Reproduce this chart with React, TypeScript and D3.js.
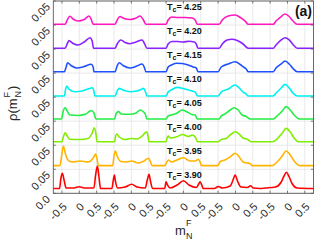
import React from "react";
import * as d3 from "d3";

// ---- data ----
const panels = [0, 1, 2, 3, 4];
const mTicks = [-0.5, 0, 0.5];
const mTickLabels = ["-0.5", "0", "0.5"];
const yTicks = [0, 0.05, 0.1, 0.15, 0.2, 0.25, 0.3, 0.35, 0.4];
const yTickLabels = ["0.0", "0.05", "0.05", "0.05", "0.05", "0.05", "0.05", "0.05", "0.05"];
const temps = ["3.90", "3.95", "4.00", "4.05", "4.10", "4.15", "4.20", "4.25"];
const bandOffset = 0.05;
const panelSpan = 1.5;

// [panel, m, rho]
type P = [number, number, number];
const rho390: P[] = [
  [0, -0.75, 0.010], [0, -0.57, 0.010], [0, -0.53, 0.0318], [0, -0.49, 0.0416], [0, -0.44, 0.0277], [0, -0.38, 0.011],
  [0, -0.15, 0.011], [0, -0.01, 0.0137], [0, 0.14, 0.011], [0, 0.42, 0.011], [0, 0.47, 0.0381], [0, 0.52, 0.0568],
  [0, 0.57, 0.0318], [0, 0.61, 0.010],
  [1, -0.56, 0.010], [1, -0.52, 0.0277], [1, -0.49, 0.0381], [1, -0.46, 0.0256], [1, -0.40, 0.011], [1, -0.18, 0.0131],
  [1, 0.01, 0.0187], [1, 0.16, 0.0131], [1, 0.40, 0.011], [1, 0.46, 0.0277], [1, 0.51, 0.0395], [1, 0.55, 0.0256], [1, 0.61, 0.010],
  [2, -0.54, 0.010], [2, -0.50, 0.0241], [2, -0.46, 0.0173], [2, -0.38, 0.011], [2, -0.18, 0.0173], [2, 0, 0.0262],
  [2, 0.16, 0.0173], [2, 0.37, 0.0121], [2, 0.44, 0.0193], [2, 0.48, 0.0241], [2, 0.53, 0.0173], [2, 0.57, 0.010],
  [3, -0.61, 0.010], [3, -0.49, 0.0141], [3, -0.38, 0.011], [3, -0.15, 0.0152], [3, -0.07, 0.0277], [3, -0.01, 0.0381],
  [3, 0.06, 0.0256], [3, 0.16, 0.0131], [3, 0.34, 0.0121], [3, 0.44, 0.0158], [3, 0.51, 0.011], [3, 0.71, 0.010],
  [4, -0.64, 0.011], [4, -0.35, 0.0131], [4, -0.18, 0.0235], [4, -0.10, 0.036], [4, -0.03, 0.0437], [4, 0.05, 0.0339],
  [4, 0.14, 0.0193], [4, 0.28, 0.011], [4, 0.75, 0.010],
];
const rho395: P[] = [
  [0, -0.75, 0.0075], [0, -0.56, 0.0075], [0, -0.51, 0.0277], [0, -0.46, 0.0485], [0, -0.40, 0.0318], [0, -0.33, 0.0193],
  [0, -0.21, 0.0152], [0, 0.02, 0.0173], [0, 0.25, 0.0152], [0, 0.40, 0.0235], [0, 0.47, 0.0318], [0, 0.51, 0.0214], [0, 0.55, 0.0075],
  [1, -0.54, 0.0075], [1, -0.50, 0.0277], [1, -0.46, 0.0381], [1, -0.41, 0.0277], [1, -0.30, 0.0162], [1, -0.15, 0.0152],
  [1, 0.01, 0.0173], [1, 0.19, 0.0131], [1, 0.37, 0.0173], [1, 0.49, 0.0229], [1, 0.54, 0.0173], [1, 0.60, 0.0075],
  [2, -0.54, 0.0075], [2, -0.48, 0.0152], [2, -0.43, 0.0193], [2, -0.35, 0.0152], [2, -0.18, 0.0193], [2, 0, 0.0241],
  [2, 0.19, 0.0173], [2, 0.34, 0.0173], [2, 0.43, 0.0208], [2, 0.48, 0.0152], [2, 0.52, 0.0075],
  [3, -0.51, 0.0075], [3, -0.44, 0.0158], [3, -0.30, 0.0193], [3, -0.15, 0.0256], [3, -0.01, 0.0333], [3, 0.11, 0.0256],
  [3, 0.22, 0.0152], [3, 0.34, 0.0131], [3, 0.42, 0.0121], [3, 0.48, 0.0075],
  [4, -0.44, 0.0075], [4, -0.30, 0.0152], [4, -0.15, 0.0277], [4, -0.04, 0.0381], [4, 0.08, 0.0297], [4, 0.19, 0.0173],
  [4, 0.37, 0.0075], [4, 0.75, 0.0075],
];
const rho400: P[] = [
  [0, -0.75, 0.0073], [0, -0.50, 0.0073], [0, -0.46, 0.0171], [0, -0.41, 0.026], [0, -0.35, 0.0191], [0, -0.27, 0.0123],
  [0, 0.02, 0.0119], [0, 0.25, 0.0139], [0, 0.37, 0.0254], [0, 0.43, 0.0364], [0, 0.48, 0.0233], [0, 0.51, 0.0073],
  [1, -0.48, 0.0073], [1, -0.46, 0.0171], [1, -0.42, 0.0233], [1, -0.35, 0.0171], [1, -0.18, 0.0119], [1, -0.01, 0.0139],
  [1, 0.16, 0.0129], [1, 0.34, 0.0212], [1, 0.44, 0.0281], [1, 0.48, 0.0191], [1, 0.51, 0.0073],
  [2, -0.50, 0.0073], [2, -0.47, 0.015], [2, -0.44, 0.0191], [2, -0.38, 0.015], [2, -0.21, 0.0171], [2, -0.02, 0.0223],
  [2, 0.14, 0.0181], [2, 0.25, 0.0212], [2, 0.34, 0.0171], [2, 0.41, 0.0073],
  [3, -0.50, 0.0073], [3, -0.41, 0.0119], [3, -0.27, 0.0139], [3, -0.12, 0.0233], [3, -0.01, 0.0281], [3, 0.11, 0.0233],
  [3, 0.22, 0.015], [3, 0.34, 0.0123], [3, 0.45, 0.0073],
  [4, -0.44, 0.0073], [4, -0.30, 0.0129], [4, -0.15, 0.0254], [4, -0.04, 0.0351], [4, 0.08, 0.0275], [4, 0.19, 0.015],
  [4, 0.31, 0.0073], [4, 0.75, 0.0073],
];
const rho405: P[] = [
  [0, -0.75, 0.0046], [0, -0.51, 0.0046], [0, -0.47, 0.0191], [0, -0.41, 0.0281], [0, -0.35, 0.0212], [0, -0.27, 0.0129],
  [0, -0.04, 0.0119], [0, 0.19, 0.015], [0, 0.31, 0.0212], [0, 0.37, 0.0218], [0, 0.42, 0.0171], [0, 0.48, 0.0046],
  [1, -0.48, 0.0046], [1, -0.44, 0.016], [1, -0.37, 0.0198], [1, -0.30, 0.015], [1, -0.04, 0.0143], [1, 0.14, 0.0171],
  [1, 0.25, 0.0233], [1, 0.34, 0.0202], [1, 0.40, 0.015], [1, 0.45, 0.0046],
  [2, -0.50, 0.0046], [2, -0.44, 0.0108], [2, -0.35, 0.0129], [2, -0.18, 0.0171], [2, -0.04, 0.0233], [2, 0.11, 0.0191],
  [2, 0.25, 0.0139], [2, 0.34, 0.0129], [2, 0.40, 0.0046],
  [3, -0.47, 0.0046], [3, -0.41, 0.0108], [3, -0.30, 0.015], [3, -0.15, 0.0233], [3, -0.04, 0.0281], [3, 0.08, 0.0233],
  [3, 0.19, 0.0129], [3, 0.31, 0.0098], [3, 0.42, 0.0046],
  [4, -0.41, 0.0046], [4, -0.30, 0.0108], [4, -0.15, 0.0212], [4, -0.04, 0.0302], [4, 0.08, 0.0233], [4, 0.19, 0.0129],
  [4, 0.34, 0.0046], [4, 0.75, 0.0046],
];
const rho410: P[] = [
  [0, -0.75, 0.0023], [0, -0.43, 0.0023], [0, -0.40, 0.0148], [0, -0.36, 0.0231], [0, -0.30, 0.0168], [0, -0.12, 0.0112],
  [0, 0.08, 0.0127], [0, 0.25, 0.0168], [0, 0.38, 0.0196], [0, 0.42, 0.0127], [0, 0.45, 0.0023],
  [1, -0.47, 0.0023], [1, -0.41, 0.0127], [1, -0.35, 0.0183], [1, -0.24, 0.0148], [1, -0.04, 0.0112], [1, 0.16, 0.0127],
  [1, 0.28, 0.0158], [1, 0.34, 0.0183], [1, 0.40, 0.0127], [1, 0.45, 0.0023],
  [2, -0.50, 0.0023], [2, -0.44, 0.0106], [2, -0.35, 0.0148], [2, -0.18, 0.0204], [2, 0.05, 0.0168], [2, 0.25, 0.0127],
  [2, 0.34, 0.0106], [2, 0.41, 0.0023],
  [3, -0.50, 0.0023], [3, -0.41, 0.0106], [3, -0.21, 0.0168], [3, -0.01, 0.0252], [3, 0.11, 0.019], [3, 0.22, 0.0106],
  [3, 0.31, 0.0065], [3, 0.37, 0.0023],
  [4, -0.41, 0.0023], [4, -0.33, 0.0085], [4, -0.18, 0.019], [4, -0.07, 0.0266], [4, 0.05, 0.019], [4, 0.16, 0.0085],
  [4, 0.28, 0.0023], [4, 0.75, 0.0023],
];
const rho415: P[] = [
  [0, -0.75, 0.0029], [0, -0.43, 0.0029], [0, -0.38, 0.0127], [0, -0.34, 0.0216], [0, -0.24, 0.0158], [0, -0.07, 0.0106],
  [0, 0.14, 0.0137], [0, 0.34, 0.0183], [0, 0.40, 0.0127], [0, 0.42, 0.0029],
  [1, -0.47, 0.0029], [1, -0.41, 0.0148], [1, -0.35, 0.0216], [1, -0.24, 0.0158], [1, -0.04, 0.0106], [1, 0.16, 0.0148],
  [1, 0.31, 0.019], [1, 0.37, 0.0127], [1, 0.42, 0.0029],
  [2, -0.50, 0.0029], [2, -0.44, 0.0127], [2, -0.35, 0.0168], [2, -0.21, 0.0204], [2, -0.04, 0.020], [2, 0.14, 0.0168],
  [2, 0.28, 0.0127], [2, 0.37, 0.0106], [2, 0.42, 0.0029],
  [3, -0.50, 0.0029], [3, -0.41, 0.0127], [3, -0.21, 0.019], [3, -0.01, 0.0237], [3, 0.14, 0.0179], [3, 0.22, 0.0133],
  [3, 0.31, 0.0085], [3, 0.37, 0.0029],
  [4, -0.41, 0.0029], [4, -0.33, 0.0106], [4, -0.18, 0.019], [4, -0.07, 0.0252], [4, 0.05, 0.019], [4, 0.16, 0.0096],
  [4, 0.28, 0.0029], [4, 0.75, 0.0029],
];
const rho420: P[] = [
  [0, -0.75, 0.0017], [0, -0.41, 0.0017], [0, -0.35, 0.0106], [0, -0.30, 0.0175], [0, -0.18, 0.0116], [0, -0.04, 0.0085],
  [0, 0.14, 0.0148], [0, 0.31, 0.0237], [0, 0.37, 0.0168], [0, 0.41, 0.0017],
  [1, -0.47, 0.0017], [1, -0.41, 0.0106], [1, -0.30, 0.019], [1, -0.18, 0.0137], [1, -0.04, 0.0112], [1, 0.14, 0.0148],
  [1, 0.31, 0.019], [1, 0.37, 0.0127], [1, 0.45, 0.0017],
  [2, -0.50, 0.0017], [2, -0.44, 0.0106], [2, -0.33, 0.0158], [2, -0.18, 0.0158], [2, -0.01, 0.0148], [2, 0.16, 0.0162],
  [2, 0.31, 0.0148], [2, 0.37, 0.0106], [2, 0.42, 0.0017],
  [3, -0.47, 0.0017], [3, -0.38, 0.0106], [3, -0.24, 0.019], [3, -0.10, 0.0204], [3, 0.05, 0.0179], [3, 0.22, 0.0106],
  [3, 0.37, 0.0017],
  [4, -0.41, 0.0017], [4, -0.33, 0.0085], [4, -0.18, 0.019], [4, -0.07, 0.0237], [4, 0.05, 0.019], [4, 0.16, 0.0096],
  [4, 0.28, 0.0017], [4, 0.75, 0.0017],
];
const rho425: P[] = [
  [0, -0.75, 0.0015], [0, -0.41, 0.0015], [0, -0.35, 0.0104], [0, -0.27, 0.0183], [0, -0.18, 0.0125], [0, -0.04, 0.0083],
  [0, 0.14, 0.0114], [0, 0.28, 0.0187], [0, 0.34, 0.0125], [0, 0.40, 0.0015],
  [1, -0.47, 0.0015], [1, -0.41, 0.0104], [1, -0.33, 0.0177], [1, -0.21, 0.0135], [1, -0.04, 0.0114], [1, 0.14, 0.0146],
  [1, 0.25, 0.0187], [1, 0.34, 0.0114], [1, 0.42, 0.0015],
  [2, -0.50, 0.0015], [2, -0.44, 0.0104], [2, -0.33, 0.0166], [2, -0.15, 0.0156], [2, 0.05, 0.0156], [2, 0.25, 0.0146],
  [2, 0.34, 0.0104], [2, 0.40, 0.0015],
  [3, -0.47, 0.0015], [3, -0.38, 0.0104], [3, -0.21, 0.0187], [3, 0, 0.0208], [3, 0.14, 0.0156], [3, 0.28, 0.0083],
  [3, 0.37, 0.0015],
  [4, -0.41, 0.0015], [4, -0.33, 0.0083], [4, -0.18, 0.0177], [4, -0.07, 0.0229], [4, 0.05, 0.0177], [4, 0.16, 0.0083],
  [4, 0.28, 0.0015], [4, 0.75, 0.0015],
];
const series = [rho390, rho395, rho400, rho405, rho410, rho415, rho420, rho425];

// ---- styles ----
const colors = ["#ff0000", "#ffb400", "#80ee00", "#22ee44", "#00f0f0", "#1f50ff", "#8a22ff", "#ff18c0"];
const W = 315, H = 243;
const left = 53.3, right = 313.5, top = 1, bottom = 193.3;
const textColor = "#262626";
const font = "'Liberation Sans', Arial, sans-serif";

export default function App() {
  const x = d3.scaleLinear().domain([0, panels.length * panelSpan]).range([left, right]);
  const y = d3.scaleLinear().domain([0, 0.4]).range([bottom, top]);
  const gx = (p: number, m: number) => x(panelSpan / 2 + panelSpan * p + m);

  const xTickList = panels.flatMap((p) => mTicks.map((m, k) => ({ v: gx(p, m), label: mTickLabels[k] })));

  return (
    <svg width={W} height={H} style={{ position: "absolute", left: 0, top: 0, background: "#fff" }} fontFamily={font}>
      <rect x={0} y={0} width={W} height={H} fill="#fff" />
      {/* grid */}
      {xTickList.map((t, i) => (
        <line key={"gx" + i} x1={t.v} x2={t.v} y1={top} y2={bottom} stroke="#e3e3e3" strokeWidth={0.8} />
      ))}
      {yTicks.map((t, i) => (
        <line key={"gy" + i} x1={left} x2={right} y1={y(t)} y2={y(t)} stroke="#e3e3e3" strokeWidth={0.8} />
      ))}
      {/* curves */}
      {series.map((s, i) => {
        const line = d3
          .line<P>()
          .x((d) => gx(d[0], d[1]))
          .y((d) => y(i * bandOffset + d[2]))
          .curve(d3.curveMonotoneX);
        return <path key={"c" + i} d={line(s) || ""} fill="none" stroke={colors[i]} strokeWidth={1.6} strokeLinejoin="round" />;
      })}
      {/* temperature labels */}
      {temps.map((t, i) => (
        <text key={"t" + i} x={gx(2, -0.47)} y={y((i + 1) * bandOffset - 0.019)} fontSize={9} fontWeight="bold" fill="#111">
          <tspan>T</tspan>
          <tspan fontSize={7} dy={2}>c</tspan>
          <tspan dy={-2}>{"= " + t}</tspan>
        </text>
      ))}
      {/* frame */}
      <rect x={left} y={top} width={right - left} height={bottom - top} fill="none" stroke="#5a5a5a" strokeWidth={0.9} />
      {xTickList.map((t, i) => (
        <g key={"xt" + i}>
          <line x1={t.v} x2={t.v} y1={bottom} y2={bottom - 2.6} stroke="#5a5a5a" strokeWidth={0.8} />
          <line x1={t.v} x2={t.v} y1={top} y2={top + 2.6} stroke="#5a5a5a" strokeWidth={0.8} />
          <text
            transform={`translate(${t.v + 5.5},${bottom + 14}) rotate(-45)`}
            textAnchor="end"
            fontSize={11}
            fill={textColor}
          >
            {t.label}
          </text>
        </g>
      ))}
      {yTicks.map((t, i) => (
        <g key={"yt" + i}>
          <line x1={left} x2={left + 2.6} y1={y(t)} y2={y(t)} stroke="#5a5a5a" strokeWidth={0.8} />
          <line x1={right} x2={right - 2.6} y1={y(t)} y2={y(t)} stroke="#5a5a5a" strokeWidth={0.8} />
          <text
            transform={`translate(${left - 2.5},${y(t) + 6.5}) rotate(-45)`}
            textAnchor="end"
            fontSize={11}
            fill={textColor}
          >
            {yTickLabels[i]}
          </text>
        </g>
      ))}
      {/* panel tag */}
      <text x={312} y={16} textAnchor="end" fontSize={14} fontWeight="bold" fill="#111">(a)</text>
      {/* x label */}
      <g transform="translate(175,235)" fill={textColor}>
        <text x={0} y={0} fontSize={13}>m</text>
        <text x={11} y={-9} fontSize={9}>F</text>
        <text x={11} y={4} fontSize={9}>N</text>
      </g>
      {/* y label */}
      <g transform="translate(17,121) rotate(-90)" fill={textColor}>
        <text x={0} y={0} fontSize={13}>ρ(m</text>
        <text x={23.5} y={-7.5} fontSize={9}>F</text>
        <text x={23.5} y={3.5} fontSize={9}>N</text>
        <text x={31} y={0} fontSize={13}>)</text>
      </g>
    </svg>
  );
}
